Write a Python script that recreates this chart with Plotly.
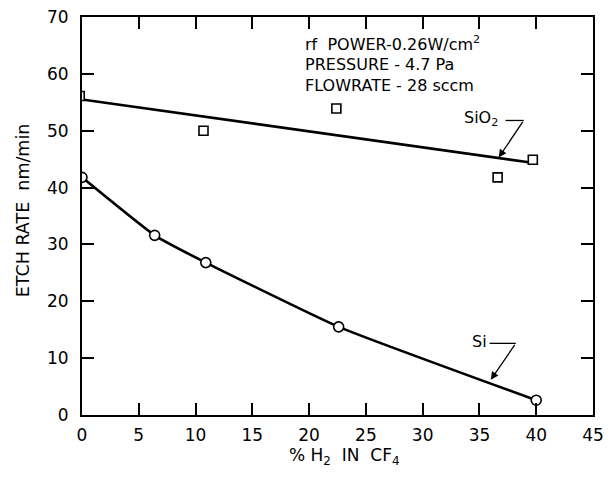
import plotly.graph_objects as go

# Etch rate versus hydrogen fraction in a CF4 plasma
si_h2 = [0, 6.4, 10.9, 22.6, 40]
si_rate = [41.8, 31.6, 26.8, 15.5, 2.6]

sio2_h2 = [-0.2, 10.7, 22.4, 36.6, 39.7]
sio2_rate = [56.1, 50.0, 53.9, 41.8, 44.9]

# straight-line fit drawn through the SiO2 points
sio2_fit_h2 = [0, 39.5]
sio2_fit_rate = [55.5, 44.4]

x_ticks = [0, 5, 10, 15, 20, 25, 30, 35, 40, 45]
y_ticks = [0, 10, 20, 30, 40, 50, 60, 70]

conditions = [
    "rf  POWER-0.26W/cm<sup>2</sup>",
    "PRESSURE - 4.7 Pa",
    "FLOWRATE - 28 sccm",
]
condition_y = [65.4, 61.7, 58.0]

FONT = "DejaVu Sans, Liberation Sans, sans-serif"

fig = go.Figure()

fig.add_trace(go.Scatter(
    x=sio2_fit_h2, y=sio2_fit_rate, mode="lines",
    line=dict(color="black", width=2.6), hoverinfo="skip",
))
fig.add_trace(go.Scatter(
    x=sio2_h2, y=sio2_rate, mode="markers",
    marker=dict(symbol="square", size=9, color="white",
                line=dict(color="black", width=1.6)),
))
fig.add_trace(go.Scatter(
    x=si_h2, y=si_rate, mode="lines+markers",
    line=dict(color="black", width=2.6, shape="spline", smoothing=0.4),
    marker=dict(symbol="circle", size=10, color="white",
                line=dict(color="black", width=1.6)),
))

axis_common = dict(
    showgrid=False, zeroline=False, showline=True, linecolor="black",
    linewidth=2, mirror="ticks", ticks="inside", ticklen=12, tickwidth=1.5,
    tickcolor="black", tickfont=dict(family=FONT, size=17, color="black"),
    ticklabeloverflow="allow",
)

fig.update_xaxes(range=[0, 45], tickvals=x_ticks, ticktext=[str(v) for v in x_ticks],
                 ticklabelstandoff=4, **axis_common)
fig.update_yaxes(range=[0, 70], tickvals=y_ticks, ticktext=[str(v) for v in y_ticks],
                 ticklabelstandoff=8, **axis_common)

annotations = []
for txt, yv in zip(conditions, condition_y):
    annotations.append(dict(
        x=19.5, y=yv, xref="x", yref="y", text=txt, showarrow=False,
        xanchor="left", yanchor="middle",
        font=dict(family=FONT, size=16, color="black"),
    ))

# curve labels with bent leader lines
annotations += [
    dict(x=36.8, y=52.2, xref="x", yref="y", text="SiO<sub>2</sub>", showarrow=False,
         xanchor="right", yanchor="middle", font=dict(family=FONT, size=16, color="black")),
    dict(x=36.7, y=45.3, xref="x", yref="y", ax=38.9, ay=51.8, axref="x", ayref="y",
         text="", showarrow=True, arrowhead=2, arrowsize=1.2, arrowwidth=1.3,
         arrowcolor="black"),
    dict(x=35.8, y=13.0, xref="x", yref="y", text="Si", showarrow=False,
         xanchor="right", yanchor="middle", font=dict(family=FONT, size=16, color="black")),
    dict(x=36.0, y=6.2, xref="x", yref="y", ax=38.2, ay=12.6, axref="x", ayref="y",
         text="", showarrow=True, arrowhead=2, arrowsize=1.2, arrowwidth=1.3,
         arrowcolor="black"),
    dict(x=-0.115, y=0.515, xref="paper", yref="paper", text="ETCH RATE  nm/min",
         showarrow=False, textangle=-90, xanchor="center", yanchor="middle",
         font=dict(family=FONT, size=17.5, color="black")),
    dict(x=0.513, y=-0.105, xref="paper", yref="paper",
         text="% H<sub>2</sub>  IN  CF<sub>4</sub>",
         showarrow=False, xanchor="center", yanchor="middle",
         font=dict(family=FONT, size=17, color="black")),
]

shapes = [
    dict(type="line", xref="x", yref="y", x0=37.3, x1=38.9, y0=51.8, y1=51.8,
         line=dict(color="black", width=1.3)),
    dict(type="line", xref="x", yref="y", x0=35.9, x1=38.2, y0=12.6, y1=12.6,
         line=dict(color="black", width=1.3)),
]

fig.update_layout(
    width=611, height=479,
    margin=dict(l=82, r=7, t=16, b=64),
    paper_bgcolor="white", plot_bgcolor="white",
    showlegend=False,
    annotations=annotations, shapes=shapes,
    font=dict(family=FONT, color="black"),
)

fig.write_html("out.html")
